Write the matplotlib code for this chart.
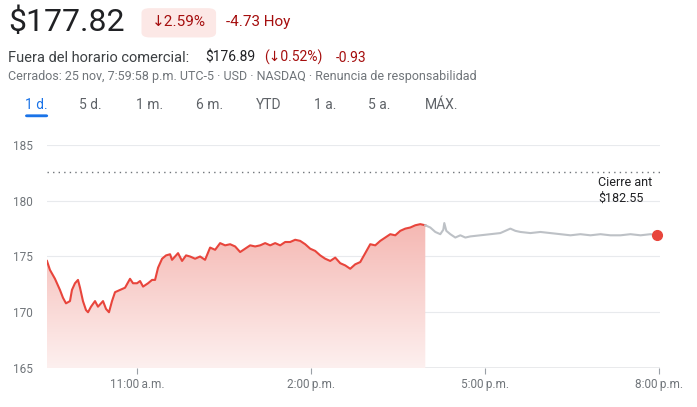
import numpy as np
import matplotlib.pyplot as plt
from matplotlib.patches import FancyBboxPatch, Polygon

plt.rcParams['font.family'] = ['Roboto', 'DejaVu Sans']

# sesión regular (horas decimales)
t_reg1 = [9.446, 9.497, 9.584, 9.670, 9.722, 9.774, 9.843, 9.877, 9.929, 9.981,
          10.016, 10.067, 10.119, 10.154, 10.206, 10.275, 10.326, 10.361, 10.413, 10.465,
          10.516, 10.568, 10.620, 10.706, 10.793, 10.879, 10.931, 11.000, 11.052, 11.104,
          11.190, 11.259, 11.311, 11.363, 11.432, 11.501, 11.570, 11.604, 11.656, 11.708,
          11.777, 11.846, 11.915, 12.002, 12.088, 12.174]
p_reg1 = [174.6, 173.8, 173.0, 172.0, 171.3, 170.8, 171.0, 172.0, 172.6, 172.9,
          172.2, 171.0, 170.2, 170.0, 170.5, 171.0, 170.5, 170.7, 171.0, 170.3,
          170.0, 171.0, 171.8, 172.0, 172.2, 173.0, 172.6, 172.6, 172.8, 172.3,
          172.6, 172.9, 172.9, 174.0, 174.8, 175.1, 175.2, 174.7, 175.0, 175.3,
          174.6, 175.1, 175.0, 174.8, 175.0, 174.7]
p_reg2 = [175.8, 175.6, 176.2, 176.0, 176.1, 175.9, 175.4, 175.7, 176.0, 175.9,
          176.0, 176.2, 176.0, 176.2, 176.0, 176.3, 176.3, 176.5, 176.4, 176.1,
          175.7, 175.5, 175.1, 174.8, 174.6, 174.9, 174.4, 174.2, 173.9, 174.3,
          174.5, 175.3, 176.1, 176.0, 176.4, 176.7, 177.0, 176.9, 177.3, 177.5,
          177.6, 177.8, 177.9, 177.8]
t_reg2 = list(np.linspace(12.261, 15.974, len(p_reg2)))

# fuera de horario
t_ext = [15.974, 16.060, 16.147, 16.233, 16.285, 16.302, 16.337, 16.406, 16.492, 16.579,
         16.665, 16.751, 16.924, 17.097, 17.269, 17.442, 17.528, 17.615, 17.788, 17.960,
         18.133, 18.306, 18.479, 18.651, 18.824, 18.997, 19.169, 19.342, 19.515, 19.688,
         19.860, 19.981]
p_ext = [177.8, 177.6, 177.2, 177.0, 177.4, 178.0, 177.3, 177.0, 176.7, 176.9,
         176.7, 176.8, 176.9, 177.0, 177.1, 177.5, 177.3, 177.2, 177.1, 177.2,
         177.1, 177.0, 176.9, 177.0, 176.9, 177.0, 176.9, 176.9, 177.0, 176.9,
         177.0, 176.9]

prev_close = 182.55
y_ticks = [165, 170, 175, 180, 185]
x_ticks = [11, 14, 17, 20]
x_labels = ['11:00\u202fa.m.', '2:00\u202fp.m.', '5:00\u202fp.m.', '8:00\u202fp.m.']

t_reg = t_reg1 + t_reg2
p_reg = p_reg1 + p_reg2

RED = '#e8453c'
DRED = '#a50e0e'
GREY = '#70757a'

fig = plt.figure(figsize=(6.97, 4.07), dpi=100)
ax = fig.add_axes([0.0674, 0.0958, 0.880, 0.548])
ax.set_xlim(9.446, 20.03)
ax.set_ylim(165, 185)

for y in y_ticks:
    ax.axhline(y, color='#e8eaed', lw=0.8, zorder=0)
ax.axhline(165, color='#9aa0a6', lw=1, zorder=1)
ax.axhline(prev_close, color='#70757a', lw=1, ls=(0, (1, 3)), zorder=1)

# degradado rojo
grad = np.linspace(0, 1, 256).reshape(-1, 1)
im = ax.imshow(grad, extent=[t_reg[0], t_reg[-1], 165, max(p_reg)], origin='lower',
               aspect='auto', cmap=plt.matplotlib.colors.LinearSegmentedColormap.from_list(
                   'g', ['#fdf0ef', '#f5b8b3']), zorder=1)
poly = Polygon(list(zip(t_reg, p_reg)) + [(t_reg[-1], 165), (t_reg[0], 165)],
               closed=True, transform=ax.transData)
im.set_clip_path(poly)

ax.plot(t_reg, p_reg, color=RED, lw=1.5, zorder=3)
ax.plot(t_ext, p_ext, color='#bdc1c6', lw=1.5, zorder=3)
ax.plot(t_ext[-1], p_ext[-1], 'o', color=RED, ms=7, zorder=4, clip_on=False)

ax.text(18.96, 182.2, 'Cierre ant\n$182.55', ha='left', va='top', fontsize=9,
        color='#202124', linespacing=1.3)

ax.set_yticks(y_ticks)
ax.set_xticks(x_ticks)
ax.set_xticklabels(x_labels)
ax.tick_params(axis='y', length=0, labelsize=8.5, labelcolor=GREY, pad=10)
ax.tick_params(axis='x', length=4, color='#9aa0a6', labelsize=8.5, labelcolor=GREY, pad=3)
for s in ax.spines.values():
    s.set_visible(False)

# cabecera
fig.text(0.012, 0.945, '$177.82', fontsize=23, color='#202124', va='center')
fig.patches.append(FancyBboxPatch((0.203, 0.908), 0.107, 0.072, boxstyle='round,pad=0,rounding_size=0.012',
                                  transform=fig.transFigure, fc='#fce8e6', ec='none'))
fig.text(0.256, 0.945, '\u21932.59%', fontsize=11, color=DRED, va='center', ha='center')
fig.text(0.324, 0.945, '-4.73 Hoy', fontsize=11, color=DRED, va='center')
fig.text(0.012, 0.858, 'Fuera del horario comercial:', fontsize=10.5, color='#3c4043', va='center')
fig.text(0.294, 0.858, '$176.89', fontsize=10, color='#202124', va='center')
fig.text(0.379, 0.858, '(\u21930.52%)', fontsize=10, color=DRED, va='center')
fig.text(0.482, 0.858, '-0.93', fontsize=10, color=DRED, va='center')
fig.text(0.012, 0.812, 'Cerrados: 25 nov, 7:59:58 p.m. UTC-5 \u00b7 USD \u00b7 NASDAQ \u00b7 Renuncia de responsabilidad',
         fontsize=9, color=GREY, va='center')

tabs = ['1 d.', '5 d.', '1 m.', '6 m.', 'YTD', '1 a.', '5 a.', 'MÁX.']
tab_x = [0.052, 0.130, 0.214, 0.300, 0.385, 0.466, 0.544, 0.633]
for i, (lab, x) in enumerate(zip(tabs, tab_x)):
    fig.text(x, 0.742, lab, fontsize=10, color='#1a73e8' if i == 0 else '#5f6368',
             va='center', ha='center')
fig.patches.append(FancyBboxPatch((0.036, 0.712), 0.033, 0.007, boxstyle='round,pad=0,rounding_size=0.003',
                                  transform=fig.transFigure, fc='#1a73e8', ec='none'))

fig.savefig('out.png', dpi=100)
